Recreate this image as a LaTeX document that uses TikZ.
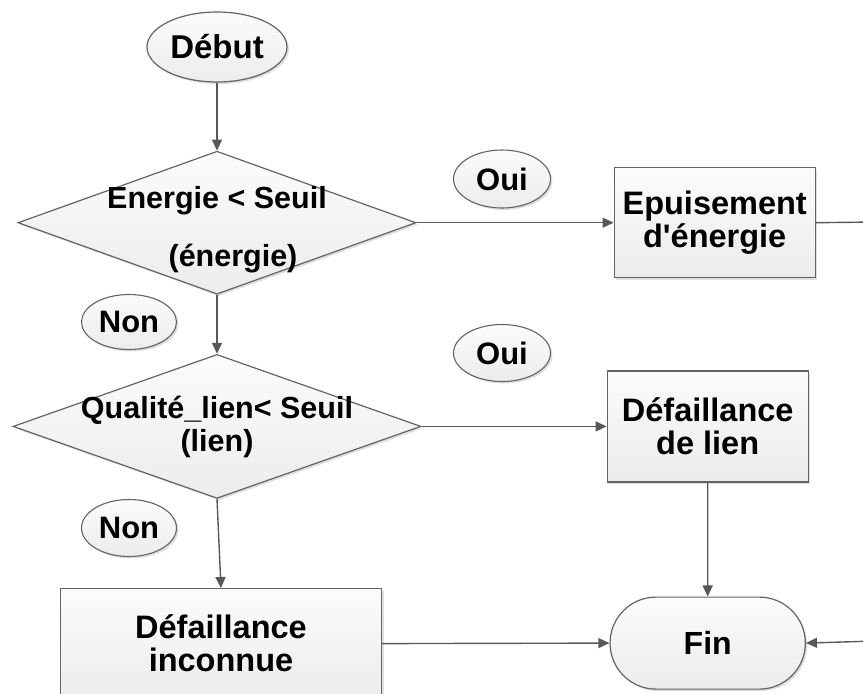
\documentclass[tikz,border=0pt]{standalone}
\usepackage{fontspec}
\setmainfont{Liberation Sans}
\usepackage{tikz}
\usetikzlibrary{
  arrows.meta,
  positioning,
  shapes.geometric,
  shapes.misc,
  shadows
}
\definecolor{flowline}{RGB}{88,88,88}
\definecolor{flowedge}{RGB}{100,100,100}
\tikzset{
  flowfill/.style={top color=gray!3, bottom color=gray!15,
    drop shadow={opacity=0.25, shadow xshift=2pt, shadow yshift=-2pt}},
  termbox/.style={draw=flowedge, ellipse, flowfill, line width=1.2pt,
    inner sep=0pt, font=\fontsize{33}{35}\selectfont\bfseries},
  decbox/.style={draw=flowedge, diamond, flowfill, line width=1.2pt,
    inner sep=0pt},
  dtext/.style={align=center, inner sep=0pt,
    font=\fontsize{30.5}{33}\selectfont\bfseries},
  procbox/.style={draw=flowedge, rectangle, flowfill, line width=1.2pt,
    align=center, font=\fontsize{32.5}{33}\selectfont\bfseries},
  endbox/.style={draw=flowedge, rounded rectangle, flowfill, line width=1.2pt,
    font=\fontsize{32}{34}\selectfont\bfseries},
  ansbox/.style={draw=flowedge, ellipse, flowfill, line width=1.1pt,
    inner sep=0pt, font=\fontsize{31}{33}\selectfont\bfseries},
  arr/.style={-{Triangle[length=11pt, width=10pt]}, draw=flowline,
    fill=flowline, line width=1.4pt},
  lin/.style={draw=flowline, line width=1.4pt},
}

\begin{document}
\begin{tikzpicture}[x=1pt, y=1pt]
  \useasboundingbox (0,0) rectangle (863,-694);

  % Main column
  \node[termbox, minimum width=140pt, minimum height=70pt] (debut)
    at (217,-47) {Début};
  \node[decbox, minimum width=398pt, minimum height=143pt,
        below=68pt of debut,
        label={[dtext, yshift=-7pt]center:Energie < Seuil\\[25pt]\hspace*{32pt}(énergie)}] (nrj) {};
  \node[decbox, minimum width=408pt, minimum height=144pt,
        below=59pt of nrj,
        label={[dtext, yshift=-1pt]center:Qualité\_lien< Seuil\\(lien)}] (qual) {};
  \node[procbox, minimum width=321pt, minimum height=110pt,
        below=89pt of qual, xshift=4pt] (inconnue)
    {Défaillance\\inconnue};

  % Right column
  \node[procbox, minimum width=201pt, minimum height=110pt,
        right=197pt of nrj] (epuis)
    {Epuisement\\d\textquotesingle énergie};
  \node[procbox, minimum width=201pt, minimum height=111pt,
        right=185pt of qual] (lien)
    {Défaillance\\de lien};
  \node[endbox, minimum width=202pt, minimum height=92pt,
        below=114pt of lien] (fin) {Fin};

  % Answers
  \node[ansbox, minimum width=97pt, minimum height=58pt] (oui1)
    at (502,-179) {Oui};
  \node[ansbox, minimum width=95pt, minimum height=55pt] (non1)
    at (129,-322) {Non};
  \node[ansbox, minimum width=97pt, minimum height=57pt] (oui2)
    at (502,-353) {Oui};
  \node[ansbox, minimum width=95pt, minimum height=57pt] (non2)
    at (129,-528) {Non};

  % Free ends past the right edge
  \coordinate (epuisout) at (875,-222);
  \coordinate (finin) at (875,-641);

  % Connectors
  \draw[arr] (debut) -- (nrj);
  \draw[arr] (nrj.east) -- (epuis.west);
  \draw[arr] (nrj.south) -- (qual.north);
  \draw[arr] (qual.east) -- (qual.east -| lien.west);
  \draw[arr] (qual.south) -- (inconnue.north);
  \draw[arr] (lien) -- (fin);
  \draw[arr] (inconnue.east) -- (fin.west);
  \draw[lin] (epuis.east) -- (epuisout);
  \draw[arr] (finin) -- (fin.east);
\end{tikzpicture}
\end{document}
